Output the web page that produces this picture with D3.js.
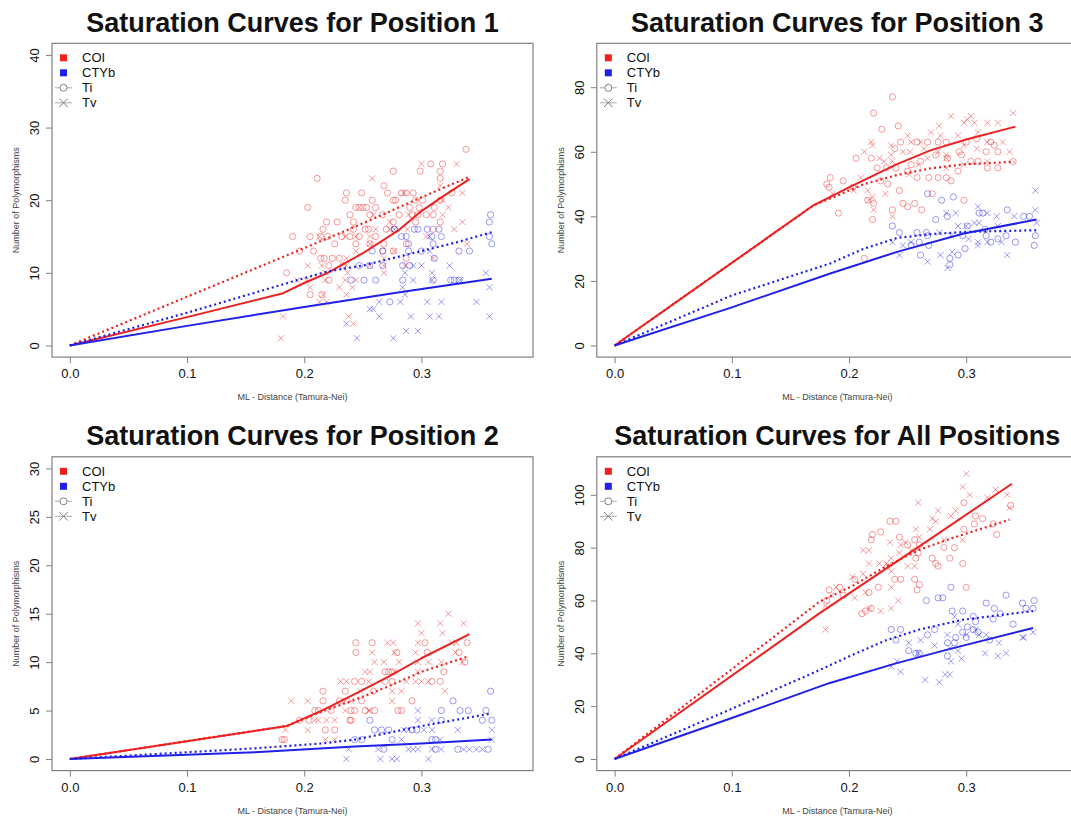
<!DOCTYPE html>
<html>
<head>
<meta charset="utf-8">
<script src="https://cdn.jsdelivr.net/npm/d3@7"></script>
<style>
  body { margin: 0; background: #fff; }
  svg { display: block; font-family: "Liberation Sans", Arial, sans-serif; }
</style>
</head>
<body>
<script>
// ---- data (x = ML distance, y = number of polymorphisms) ----
const xTicks = [0, 0.1, 0.2, 0.3];
const legendLabels = ["COI", "CTYb", "Ti", "Tv"];

// Position 1
const pos1YTicks = [0, 10, 20, 30, 40];
const pos1RedTi = [[0.338,27],[0.308,25],[0.318,25],[0.276,24],[0.299,24],[0.316,24],[0.211,23],[0.316,23],[0.268,22],
  [0.236,21],[0.249,21],[0.271,21],[0.283,21],[0.287,21],[0.293,21],[0.326,21],
  [0.235,20],[0.258,20],[0.276,20],[0.278,20],[0.295,20],[0.301,20],[0.316,20],
  [0.203,19],[0.244,19],[0.247,19],[0.250,19],[0.253,19],[0.261,19],[0.290,19],[0.298,19],[0.311,19],
  [0.239,18],[0.256,18],[0.267,18],[0.281,18],[0.292,18],[0.297,18],[0.304,18],[0.310,18],
  [0.219,17],[0.228,17],[0.242,17],[0.276,17],[0.295,17],[0.316,17],
  [0.216,16],[0.242,16],[0.252,16],[0.255,16],[0.270,16],[0.277,16],[0.310,16],
  [0.190,15],[0.205,15],[0.214,15],[0.220,15],[0.232,15],[0.239,15],[0.247,15],[0.261,15],
  [0.226,14],[0.244,14],[0.256,14],[0.268,14],[0.287,14],[0.196,13],[0.208,13],[0.267,13],[0.276,13],
  [0.214,12],[0.217,12],[0.224,12],[0.230,12],[0.287,12],[0.221,11],[0.233,11],[0.185,10],[0.221,9],[0.205,7],[0.215,7]];
const pos1RedTv = [[0.300,25],[0.330,25],[0.258,23],[0.316,22],[0.285,21],[0.335,21],[0.318,20],[0.323,19],
  [0.259,18],[0.289,18],[0.318,18],[0.273,17],[0.335,17],[0.261,16],[0.273,16],[0.288,16],[0.328,16],
  [0.213,15],[0.235,15],[0.244,15],[0.256,15],[0.304,15],[0.256,14],[0.339,14],[0.244,13],[0.277,13],
  [0.236,12],[0.268,12],[0.310,12],[0.203,11],[0.215,11],[0.236,11],[0.256,11],[0.268,11],[0.286,11],
  [0.218,10],[0.237,10],[0.268,10],[0.194,9],[0.202,9],[0.218,9],[0.235,9],[0.244,9],
  [0.205,8],[0.230,8],[0.241,8],[0.216,7],[0.236,7],[0.213,6],[0.219,6],[0.182,4],[0.238,4],[0.242,3],[0.180,1]];
const pos1BlueTi = [[0.359,18],[0.358,17],[0.358,15],[0.360,14],[0.277,16],[0.294,16],[0.297,16],[0.305,16],[0.315,16],
  [0.283,15],[0.287,15],[0.309,15],[0.317,15],[0.289,14],[0.310,14],
  [0.258,13],[0.267,13],[0.289,13],[0.300,13],[0.332,13],[0.341,13],[0.311,12],
  [0.247,11],[0.256,11],[0.267,11],[0.284,11],[0.290,11],
  [0.240,9],[0.251,9],[0.261,9],[0.284,9],[0.310,9],[0.325,9],[0.328,9],[0.332,9],[0.273,6]];
const pos1BlueTv = [[0.277,16],[0.307,15],[0.307,13],[0.293,11],[0.300,11],[0.324,11],[0.286,10],[0.309,10],
  [0.293,9],[0.309,9],[0.333,9],[0.284,8],[0.286,7],[0.264,6],[0.282,6],[0.305,6],[0.317,6],[0.347,6],
  [0.256,5],[0.259,5],[0.264,4],[0.291,4],[0.307,4],[0.315,4],[0.236,3],[0.287,2],[0.297,2],[0.245,1],[0.276,1],
  [0.358,8],[0.358,4],[0.355,10]];
const pos1RedTiLine = [[0,0],[0.1,6.7],[0.2,13.4],[0.25,16.8],[0.3,20.4],[0.342,23.3]];
const pos1RedTvLine = [[0,0],[0.1,3.9],[0.182,7.2],[0.2,8.6],[0.22,10],[0.25,12.7],[0.28,15.8],[0.3,18.5],[0.32,20.7],[0.341,22.9]];
const pos1BlueTiLine = [[0,0],[0.1,4.5],[0.19,8.8],[0.22,10.2],[0.25,11],[0.28,12.2],[0.3,13],[0.33,14.2],[0.36,15.6]];
const pos1BlueTvLine = [[0,0],[0.1,2.7],[0.2,5.3],[0.28,7.3],[0.36,9.2]];

// Position 3
const pos3YTicks = [0, 20, 40, 60, 80];
const pos3RedTi = [[0.237,77],[0.221,72],[0.242,68],[0.228,67],[0.206,58],[0.219,58],[0.239,61],[0.244,63],[0.258,63],
  [0.267,63],[0.276,63],[0.283,63],[0.300,63],[0.309,64],[0.321,63],[0.324,62],[0.317,60],[0.327,60],[0.294,60],
  [0.296,59],[0.284,58],[0.274,59],[0.304,57],[0.310,57],[0.318,55],[0.327,55],[0.340,57],[0.261,57],[0.253,56],
  [0.224,55],[0.232,55],[0.240,55],[0.250,54],[0.258,52],[0.268,52],[0.276,52],[0.283,52],[0.293,54],[0.287,51],
  [0.227,51],[0.233,50],[0.195,51],[0.184,52],[0.181,50],[0.191,41],[0.183,49],[0.203,49],[0.221,44],[0.216,45],
  [0.243,48],[0.237,42],[0.246,44],[0.250,43],[0.256,44],[0.262,42],[0.271,47],[0.298,45],[0.220,39],[0.213,27]];
const pos3RedTv = [[0.287,71],[0.304,71],[0.298,69],[0.301,70],[0.307,69],[0.318,69],[0.327,69],[0.340,72],
  [0.277,68],[0.270,66],[0.250,65],[0.278,65],[0.293,65],[0.310,66],[0.318,63],[0.331,63],
  [0.261,63],[0.253,63],[0.236,62],[0.219,63],[0.220,62],[0.213,60],[0.226,58],[0.236,59],[0.246,60],[0.252,60],
  [0.264,61],[0.276,60],[0.283,58],[0.298,62],[0.309,61],[0.337,60],[0.230,57],[0.237,57],[0.259,56],[0.267,58],
  [0.283,59],[0.298,56],[0.318,57],[0.251,53],[0.283,55],[0.210,52],[0.204,48],[0.216,48],[0.231,47],[0.220,46],
  [0.217,45],[0.221,42],[0.237,40],[0.186,47]];
const pos3BlueTi = [[0.267,47],[0.279,45],[0.289,46],[0.237,37],[0.274,39],[0.284,40],[0.311,41],[0.335,42],[0.349,40],
  [0.314,41],[0.243,35],[0.258,35],[0.266,35],[0.267,34],[0.260,32],[0.253,31],[0.261,28],[0.268,31],[0.286,27],
  [0.293,28],[0.286,25],[0.297,34],[0.301,37],[0.316,36],[0.317,34],[0.327,33],[0.334,34],[0.342,32],[0.321,32],
  [0.359,34],[0.358,31],[0.354,40],[0.299,30]];
const pos3BlueTv = [[0.283,41],[0.291,41],[0.310,43],[0.318,41],[0.326,40],[0.341,40],[0.293,37],[0.300,37],[0.277,35],
  [0.307,38],[0.311,38],[0.327,37],[0.237,32],[0.246,31],[0.253,32],[0.287,34],[0.302,33],[0.310,32],[0.310,31],
  [0.318,32],[0.330,32],[0.243,28],[0.278,28],[0.288,29],[0.267,26],[0.284,24],[0.335,28],[0.359,48],[0.359,42],[0.360,38]];
const pos3RedTiLine = [[0,0],[0.17,43.5],[0.184,45.5],[0.213,50],[0.241,52.8],[0.27,54.9],[0.298,56.1],[0.341,56.9]];
const pos3RedTvLine = [[0,0],[0.17,43.5],[0.184,46],[0.2,49],[0.24,56],[0.27,60.5],[0.3,63.8],[0.342,67.8]];
const pos3BlueTiLine = [[0,0],[0.1,15.5],[0.184,25.4],[0.213,30],[0.241,33.3],[0.27,34.5],[0.3,35.2],[0.36,35.7]];
const pos3BlueTvLine = [[0,0],[0.1,11.8],[0.184,22.3],[0.241,29],[0.298,34.7],[0.36,39]];

// Position 2
const pos2YTicks = [0, 5, 10, 15, 20, 25, 30];
const pos2RedTi = [[0.244,12],[0.258,12],[0.303,12],[0.339,12],[0.244,11],[0.279,11],[0.305,11],[0.332,11],[0.337,10],
  [0.269,9],[0.272,9],[0.275,9],[0.319,9],[0.243,8],[0.249,8],[0.269,8],[0.275,8],[0.309,8],[0.316,8],
  [0.216,7],[0.235,7],[0.259,7],[0.216,6],[0.230,6],[0.249,6],[0.292,6],
  [0.209,5],[0.212,5],[0.223,5],[0.240,5],[0.243,5],[0.252,5],[0.260,5],[0.280,5],[0.283,5],
  [0.204,4],[0.239,4],[0.240,4],[0.196,4],[0.218,3],[0.226,3],[0.181,2],[0.183,2]];
const pos2RedTv = [[0.323,15],[0.297,14],[0.316,14],[0.336,14],[0.300,13],[0.318,13],
  [0.271,12],[0.276,12],[0.297,12],[0.326,12],[0.330,12],[0.258,11],[0.277,11],[0.295,11],[0.329,11],
  [0.260,10],[0.268,10],[0.281,10],[0.297,10],[0.306,10],[0.317,10],[0.335,10],
  [0.252,9],[0.256,9],[0.277,9],[0.297,9],[0.231,8],[0.236,8],[0.255,8],[0.287,8],[0.295,8],[0.300,8],[0.306,8],
  [0.248,7],[0.275,7],[0.283,7],[0.320,7],[0.189,6],[0.203,6],[0.235,6],[0.240,6],[0.275,6],
  [0.235,5],[0.255,5],[0.256,5],[0.209,4],[0.212,4],[0.219,4],[0.226,4],[0.184,3],[0.203,3],[0.218,2],[0.226,2]];
const pos2BlueTi = [[0.359,7],[0.327,6],[0.317,5],[0.333,5],[0.340,5],[0.355,5],[0.256,4],[0.317,4],[0.360,4],[0.352,4],
  [0.260,3],[0.266,3],[0.272,3],[0.292,3],[0.296,3],[0.275,2],[0.309,2],[0.312,2],[0.243,2],[0.249,2],
  [0.268,1],[0.312,1],[0.331,1],[0.357,1]];
const pos2BlueTv = [[0.297,5],[0.297,4],[0.309,4],[0.285,3],[0.289,3],[0.302,3],[0.309,3],[0.331,3],[0.360,3],
  [0.283,2],[0.316,2],[0.360,2],[0.238,1],[0.263,1],[0.289,1],[0.293,1],[0.297,1],[0.309,1],[0.317,1],
  [0.336,1],[0.341,1],[0.347,1],[0.352,1],[0.236,0],[0.265,0],[0.275,0],[0.279,0],[0.306,0]];
const pos2RedTiLine = [[0,0],[0.185,3.4],[0.215,4.9],[0.243,6.1],[0.272,7.5],[0.3,9],[0.34,10.6]];
const pos2RedTvLine = [[0,0],[0.185,3.4],[0.215,5],[0.243,6.7],[0.272,8.5],[0.3,10.4],[0.341,12.9]];
const pos2BlueTiLine = [[0,0],[0.158,1.1],[0.215,1.6],[0.243,2],[0.272,2.7],[0.3,3.4],[0.36,4.7]];
const pos2BlueTvLine = [[0,0],[0.158,0.7],[0.243,1.3],[0.3,1.6],[0.36,2]];

// All positions
const allYTicks = [0, 20, 40, 60, 80, 100];
const allRedTi = [[0.240,90],[0.235,90],[0.227,86],[0.220,85],[0.219,83],[0.243,84],[0.250,81],[0.256,83],[0.260,81],
  [0.259,78],[0.257,76],[0.271,76],[0.274,74],[0.276,73],[0.286,76],[0.297,74],[0.281,80],[0.290,80],[0.298,87],
  [0.298,97],[0.308,92],[0.314,91],[0.323,89],[0.326,85],[0.338,96],[0.307,89],[0.239,68],[0.244,68],[0.256,68],
  [0.225,65],[0.260,66],[0.258,64],[0.300,65],[0.192,65],[0.195,62],[0.183,64],[0.217,63],[0.214,56],[0.211,55],
  [0.219,57],[0.205,68],[0.181,60]];
const allRedTv = [[0.300,108],[0.297,103],[0.303,100],[0.318,99],[0.325,102],[0.335,100],[0.337,95],[0.259,97],[0.276,94],
  [0.287,92],[0.271,91],[0.274,90],[0.291,94],[0.257,87],[0.260,84],[0.269,87],[0.281,83],[0.297,83],[0.235,82],
  [0.244,81],[0.248,82],[0.253,79],[0.212,79],[0.217,79],[0.236,76],[0.243,78],[0.232,74],[0.226,74],[0.250,73],
  [0.256,73],[0.233,73],[0.203,69],[0.212,70],[0.217,74],[0.236,71],[0.236,65],[0.242,60],[0.205,61],[0.214,63],
  [0.189,65],[0.185,62],[0.180,58],[0.217,57],[0.227,56],[0.236,57],[0.180,49]];
const allBlueTi = [[0.287,65],[0.266,60],[0.276,61],[0.280,61],[0.334,62],[0.317,59],[0.288,56],[0.297,56],[0.306,54],
  [0.308,52],[0.324,57],[0.348,59],[0.351,57],[0.340,51],[0.329,55],[0.236,49],[0.244,49],[0.240,45],[0.251,41],
  [0.257,40],[0.260,40],[0.267,47],[0.273,49],[0.284,39],[0.284,44],[0.290,44],[0.297,48],[0.300,46],[0.306,49],
  [0.310,48],[0.301,50],[0.323,53],[0.320,45],[0.291,46],[0.358,60],[0.357,57]];
const allBlueTv = [[0.290,54],[0.293,51],[0.284,47],[0.300,47],[0.308,49],[0.311,47],[0.317,47],[0.328,44],[0.348,46],
  [0.261,45],[0.251,44],[0.273,43],[0.259,40],[0.293,41],[0.287,37],[0.296,38],[0.316,40],[0.327,39],[0.334,40],
  [0.286,42],[0.241,37],[0.236,35],[0.244,33],[0.265,30],[0.277,29],[0.282,32],[0.286,32],[0.357,48],[0.349,46]];
const allRedTiLine = [[0,0],[0.1,34],[0.175,59.6],[0.203,65.5],[0.232,73],[0.26,79.2],[0.288,83.6],[0.337,90.6]];
const allRedTvLine = [[0,0],[0.175,55.2],[0.26,80.5],[0.339,104.2]];
const allBlueTiLine = [[0,0],[0.1,19],[0.175,33.7],[0.203,39.4],[0.232,45],[0.26,49],[0.297,52.7],[0.357,56]];
const allBlueTvLine = [[0,0],[0.1,15.5],[0.183,28.7],[0.24,36.2],[0.283,41.3],[0.357,49.6]];

// ---- layout ----
const boxW = 481, boxH = 313.8;
const colX = [52, 596.8], rowY = [43.3, 456.8];
const xDomain = [-0.0152, 0.3952];
const red = "#ee2020", blue = "#2020e8", gray = "#808080";

const panels = [
  { title: "Saturation Curves for Position 1", col: 0, row: 0, yDomain: [-1.6, 41.6], yTicks: pos1YTicks,
    redTi: pos1RedTi, redTv: pos1RedTv, blueTi: pos1BlueTi, blueTv: pos1BlueTv,
    redTiLine: pos1RedTiLine, redTvLine: pos1RedTvLine, blueTiLine: pos1BlueTiLine, blueTvLine: pos1BlueTvLine },
  { title: "Saturation Curves for Position 3", col: 1, row: 0, yDomain: [-3.6, 93.6], yTicks: pos3YTicks,
    redTi: pos3RedTi, redTv: pos3RedTv, blueTi: pos3BlueTi, blueTv: pos3BlueTv,
    redTiLine: pos3RedTiLine, redTvLine: pos3RedTvLine, blueTiLine: pos3BlueTiLine, blueTvLine: pos3BlueTvLine },
  { title: "Saturation Curves for Position 2", col: 0, row: 1, yDomain: [-1.2, 31.2], yTicks: pos2YTicks,
    redTi: pos2RedTi, redTv: pos2RedTv, blueTi: pos2BlueTi, blueTv: pos2BlueTv,
    redTiLine: pos2RedTiLine, redTvLine: pos2RedTvLine, blueTiLine: pos2BlueTiLine, blueTvLine: pos2BlueTvLine },
  { title: "Saturation Curves for All Positions", col: 1, row: 1, yDomain: [-4.4, 114.4], yTicks: allYTicks,
    redTi: allRedTi, redTv: allRedTv, blueTi: allBlueTi, blueTv: allBlueTv,
    redTiLine: allRedTiLine, redTvLine: allRedTvLine, blueTiLine: allBlueTiLine, blueTvLine: allBlueTvLine }
];

const svg = d3.select("body").append("svg")
  .attr("width", 1071)
  .attr("height", 818);

const cross = d3.symbol().type(d3.symbolTimes || d3.symbolX).size(26);

panels.forEach(p => {
  const x0 = colX[p.col], y0 = rowY[p.row];
  const g = svg.append("g").attr("transform", `translate(${x0},${y0})`);

  const x = d3.scaleLinear().domain(xDomain).range([0, boxW]);
  const y = d3.scaleLinear().domain(p.yDomain).range([boxH, 0]);

  // scatter points
  const drawCircles = (data, color) => {
    g.append("g").selectAll("circle")
      .data(data)
      .enter()
      .append("circle")
      .attr("cx", d => x(d[0]))
      .attr("cy", d => y(d[1]))
      .attr("r", 3.1)
      .attr("fill", "none")
      .attr("stroke", color)
      .attr("stroke-opacity", 0.45)
      .attr("stroke-width", 1);
  };
  const drawCrosses = (data, color) => {
    g.append("g").selectAll("path")
      .data(data)
      .enter()
      .append("path")
      .attr("d", cross)
      .attr("transform", d => `translate(${x(d[0])},${y(d[1])})`)
      .attr("fill", "none")
      .attr("stroke", color)
      .attr("stroke-opacity", 0.45)
      .attr("stroke-width", 1);
  };
  drawCircles(p.redTi, red);
  drawCrosses(p.redTv, red);
  drawCircles(p.blueTi, blue);
  drawCrosses(p.blueTv, blue);

  // fitted curves: Ti dotted, Tv solid
  const line = d3.line().x(d => x(d[0])).y(d => y(d[1]));
  const drawLine = (data, color, dotted) => {
    g.append("path")
      .datum(data)
      .attr("d", line)
      .attr("fill", "none")
      .attr("stroke", color)
      .attr("stroke-linejoin", "round")
      .attr("stroke-width", dotted ? 2.2 : 2)
      .attr("stroke-dasharray", dotted ? "2,3" : null);
  };
  drawLine(p.redTiLine, red, true);
  drawLine(p.redTvLine, red, false);
  drawLine(p.blueTiLine, blue, true);
  drawLine(p.blueTvLine, blue, false);

  // frame
  g.append("rect")
    .attr("width", boxW)
    .attr("height", boxH)
    .attr("fill", "none")
    .attr("stroke", gray)
    .attr("stroke-width", 1.2);

  // x axis
  const xAxis = g.append("g")
    .attr("transform", `translate(0,${boxH})`)
    .call(d3.axisBottom(x).tickValues(xTicks).tickFormat(d3.format(".1f")).tickSize(6).tickPadding(6));
  xAxis.select(".domain").remove();
  xAxis.selectAll("line").attr("stroke", gray);
  xAxis.selectAll("text").style("font-size", "13px").attr("fill", "#111");

  // y axis, labels parallel to the axis
  const yAxis = g.append("g")
    .call(d3.axisLeft(y).tickValues(p.yTicks).tickSize(6));
  yAxis.select(".domain").remove();
  yAxis.selectAll("line").attr("stroke", gray);
  yAxis.selectAll("text")
    .attr("transform", "rotate(-90)")
    .attr("x", 0)
    .attr("y", -12.8)
    .attr("dy", 0)
    .attr("text-anchor", "middle")
    .style("font-size", "13px")
    .attr("fill", "#111");

  // axis titles
  g.append("text")
    .attr("transform", `translate(-33,${boxH / 2}) rotate(-90)`)
    .attr("text-anchor", "middle")
    .style("font-size", "9px")
    .attr("fill", "#444")
    .text("Number of Polymorphisms");
  g.append("text")
    .attr("x", boxW / 2)
    .attr("y", boxH + 43)
    .attr("text-anchor", "middle")
    .style("font-size", "9px")
    .attr("fill", "#444")
    .text("ML - Distance (Tamura-Nei)");

  // title
  svg.append("text")
    .attr("x", x0 + boxW / 2)
    .attr("y", y0 - 11.6)
    .attr("text-anchor", "middle")
    .style("font-size", "27px")
    .style("font-weight", "bold")
    .attr("fill", "#111")
    .text(p.title);

  // legend
  const rowsY = [14.5, 29.5, 44.5, 59.5];
  const leg = g.append("g");
  leg.append("rect").attr("x", 8).attr("y", rowsY[0] - 3.5).attr("width", 7).attr("height", 7).attr("fill", red);
  leg.append("rect").attr("x", 8).attr("y", rowsY[1] - 3.5).attr("width", 7).attr("height", 7).attr("fill", blue);
  leg.append("line").attr("x1", 3).attr("x2", 20).attr("y1", rowsY[2]).attr("y2", rowsY[2]).attr("stroke", "#aaa");
  leg.append("circle").attr("cx", 11.5).attr("cy", rowsY[2]).attr("r", 3.5).attr("fill", "#fff").attr("stroke", gray);
  leg.append("line").attr("x1", 3).attr("x2", 20).attr("y1", rowsY[3]).attr("y2", rowsY[3]).attr("stroke", "#aaa");
  leg.append("path").attr("d", d3.symbol().type(d3.symbolTimes || d3.symbolX).size(50))
    .attr("transform", `translate(11.5,${rowsY[3]})`).attr("fill", "none").attr("stroke", gray);
  leg.selectAll("text.lab")
    .data(legendLabels)
    .enter()
    .append("text")
    .attr("class", "lab")
    .attr("x", 30)
    .attr("y", (d, i) => rowsY[i] + 4.7)
    .style("font-size", "13px")
    .attr("fill", "#111")
    .text(d => d);
});
</script>
</body>
</html>
